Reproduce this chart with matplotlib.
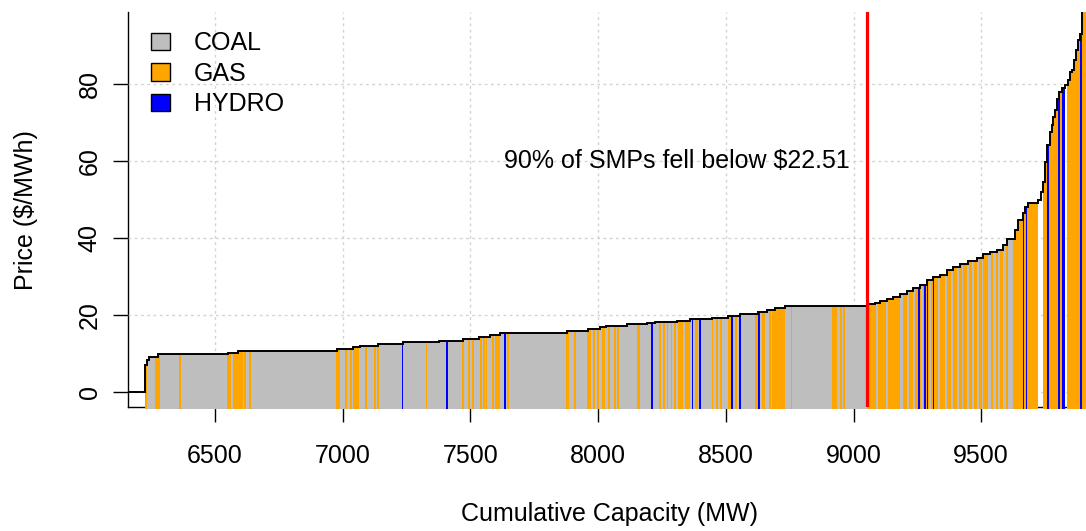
import numpy as np
import matplotlib
matplotlib.use("Agg")
import matplotlib.pyplot as plt
from matplotlib.path import Path
from matplotlib.patches import Rectangle, Patch

plt.rcParams['font.family'] = ['Liberation Sans', 'DejaVu Sans']
plt.rcParams['font.size'] = 18

# supply curve: price of each step between consecutive capacity edges
cap_edges = [0, 6227, 6234, 6240, 6277, 6551, 6590, 6976, 7041, 7068,
             7138, 7235, 7377, 7472, 7534, 7577, 7616, 7877, 7962, 8007,
             8031, 8112, 8190, 8223, 8308, 8360, 8445, 8510, 8556, 8627,
             8660, 8693, 8732, 9054, 9084, 9104, 9130, 9156, 9182, 9208,
             9234, 9260, 9287, 9312, 9339, 9365, 9391, 9417, 9449, 9482,
             9508, 9534, 9561, 9587, 9600, 9632, 9645, 9662, 9671, 9682,
             9724, 9734, 9741, 9750, 9759, 9769, 9776, 9782, 9789, 9796,
             9806, 9815, 9828, 9841, 9848, 9854, 9863, 9871, 9880, 9887,
             9894, 9940]
prices = [0, 7.1, 8.4, 9.2, 9.9, 10.3, 10.8, 11.2, 11.8, 12.1,
          12.6, 13.0, 13.3, 13.8, 14.4, 15.0, 15.3, 15.8, 16.4, 16.9,
          17.2, 17.7, 18.0, 18.3, 18.6, 19.0, 19.4, 19.9, 20.3, 20.9,
          21.4, 21.9, 22.5, 22.9, 23.3, 23.7, 24.3, 24.8, 25.5, 26.3,
          27.0, 27.9, 29.2, 29.9, 30.6, 31.9, 32.6, 33.3, 34.1, 35.0,
          35.9, 36.4, 37.1, 38.3, 39.9, 42.2, 44.8, 46.5, 48.2, 49.2,
          49.9, 52.1, 54.7, 59.9, 64.2, 67.7, 69.4, 71.6, 73.3, 76.1,
          78.1, 79.1, 79.8, 81.1, 83.3, 83.7, 86.3, 88.9, 91.5, 93.2,
          101]

# long runs of one fuel
run_fuel = ["COAL", "GAS", "GAS", "GAS"]
run_start = [6227, 9054, 9744, 9837]
run_end = [9054, 9724, 9828, 9940]

# single units inside the runs
gas_start = [6227, 6265, 6360, 6546, 6572, 6614, 6634, 6974, 7010, 7029,
             7041, 7088, 7124, 7135, 7326, 7468, 7492, 7507, 7538, 7550,
             7561, 7586, 7596, 7644, 7874, 7906, 7958, 7981, 7997, 8014,
             8040, 8062, 8075, 8151, 8240, 8255, 8269, 8284, 8297, 8314,
             8340, 8379, 8445, 8460, 8477, 8510, 8536, 8614, 8643, 8669,
             8682, 8755, 8915, 8947, 8960]
gas_end = [6235, 6285, 6367, 6563, 6608, 6620, 6641, 6989, 7017, 7035,
           7064, 7095, 7129, 7142, 7331, 7475, 7498, 7514, 7544, 7557,
           7566, 7592, 7616, 7651, 7887, 7912, 7971, 7988, 8005, 8027,
           8047, 8069, 8082, 8164, 8246, 8261, 8275, 8290, 8304, 8332,
           8360, 8390, 8451, 8468, 8486, 8519, 8543, 8625, 8653, 8677,
           8732, 8760, 8934, 8954, 8967]
coal_start = [9088, 9127, 9182, 9211, 9234, 9264, 9297, 9332, 9358, 9380,
              9406, 9424, 9443, 9464, 9482, 9502, 9528, 9547, 9566, 9587,
              9606]
coal_end = [9097, 9135, 9193, 9218, 9241, 9271, 9303, 9339, 9367, 9388,
            9414, 9430, 9451, 9472, 9490, 9508, 9537, 9558, 9574, 9597,
            9626]
hydro_start = [7231, 7404, 7632, 8206, 8366, 8396, 8520, 8553, 8627, 9254,
               9276, 9287, 9310, 9663, 9674, 9757, 9802, 9815, 9887]
hydro_end = [7236, 7411, 7639, 8214, 8372, 8402, 8527, 8559, 8632, 9260,
             9283, 9293, 9316, 9669, 9681, 9765, 9808, 9828, 9894]

smp_90 = 9052
smp_label = "90% of SMPs fell below $22.51"

colors = {"COAL": "#BEBEBE", "GAS": "#FFA500", "HYDRO": "#0000FF"}

fig = plt.figure(figsize=(10.86, 5.31), dpi=100)
ax = fig.add_axes([0.1181, 0.2326, 0.8865, 0.7454])
y_lo, y_hi = -3.95, 98.9
ax.set_xlim(6160, 9930)
ax.set_ylim(y_lo, y_hi)

# area under the step curve, used as clip for the coloured units
edges = np.array(cap_edges, float)
tops = np.minimum(np.array(prices, float), y_hi)
base = y_lo - 0.45
xs = np.repeat(edges, 2)
ys = np.concatenate([[base], np.repeat(tops, 2), [base]])
verts = np.column_stack([np.append(xs, xs[0]), np.append(ys, ys[0])])
clip = Path(verts, closed=True)


def units(starts, ends, fuel, z):
    for a, b in zip(starts, ends):
        r = Rectangle((a, base), b - a, y_hi - base + 5,
                      facecolor=colors[fuel], edgecolor='none',
                      antialiased=False, zorder=z)
        r.set_clip_path(clip, ax.transData)
        ax.add_patch(r)


for f, a, b in zip(run_fuel, run_start, run_end):
    units([a], [b], f, 1)
units(gas_start, gas_end, "GAS", 1.1)
units(coal_start, coal_end, "COAL", 1.1)
units(hydro_start, hydro_end, "HYDRO", 1.2)

ax.stairs(prices, cap_edges, baseline=None, color='black', lw=1.4, zorder=3)

ax.axvline(smp_90, color='#FF0000', lw=2.3, zorder=4)
ax.annotate(smp_label, (smp_90, 60), xytext=(-12, 0), textcoords='offset points',
            ha='right', va='center', fontsize=18)

ax.set_xticks(np.arange(6500, 9501, 500))
ax.set_yticks(np.arange(0, 81, 20))
ax.grid(True, color='#D3D3D3', linestyle=(0, (2, 2.5)), linewidth=1)
ax.set_axisbelow(True)
for s in ['top', 'right']:
    ax.spines[s].set_visible(False)
for s in ['left', 'bottom']:
    ax.spines[s].set_linewidth(1.0)
    ax.spines[s].set_zorder(0.5)
ax.tick_params(length=11, width=1.0)
ax.tick_params(axis='x', pad=15)
ax.tick_params(axis='y', pad=8, labelrotation=90)
for lab in ax.get_yticklabels():
    lab.set_va('center')

ax.set_xlabel("Cumulative Capacity (MW)", labelpad=25)
ax.set_ylabel("Price ($/MWh)", labelpad=29)

handles = [Patch(facecolor=colors[k], edgecolor='black', lw=1) for k in ["COAL", "GAS", "HYDRO"]]
ax.legend(handles, ["COAL", "GAS", "HYDRO"], loc='upper left',
          bbox_to_anchor=(0.024, 0.95), frameon=False, borderpad=0,
          handlelength=0.76, handleheight=0.68, handletextpad=0.95,
          labelspacing=0.25, borderaxespad=0)

fig.savefig("out.png", dpi=100)
